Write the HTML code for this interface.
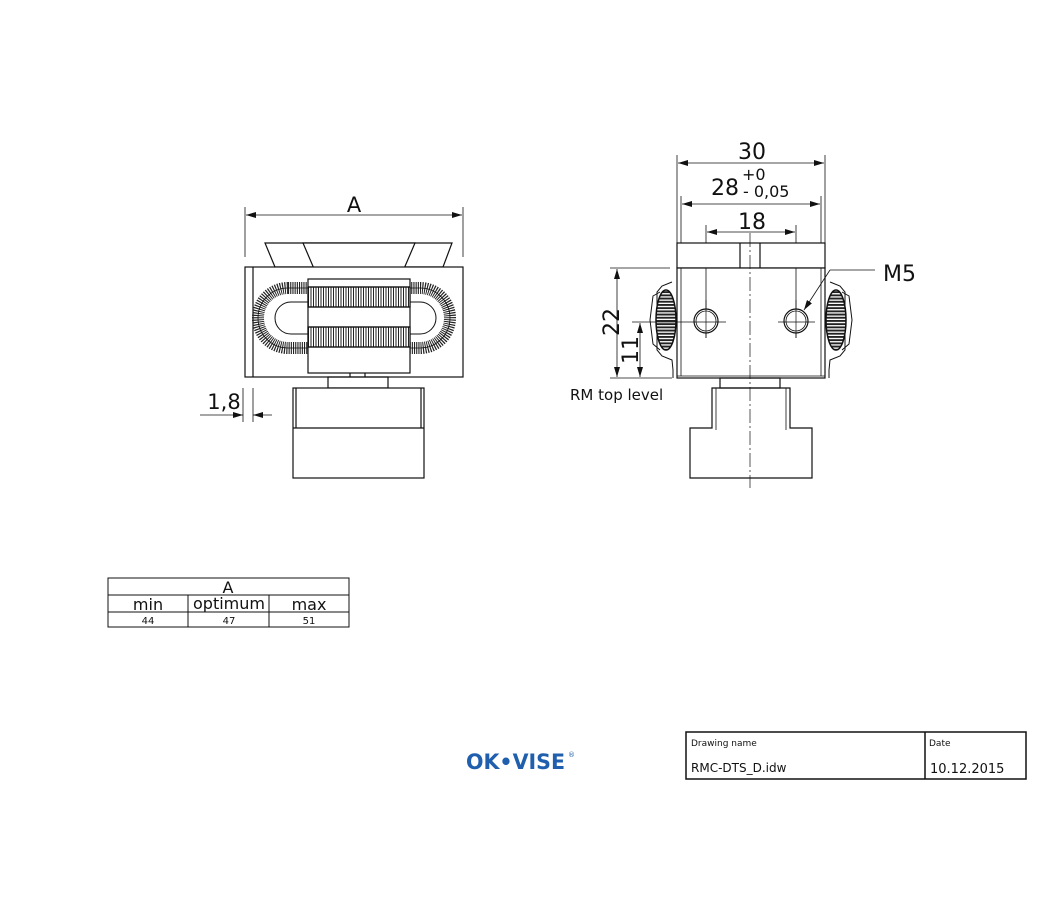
<!DOCTYPE html>
<html><head><meta charset="utf-8"><style>
html,body{margin:0;padding:0;background:#fff;}
svg{display:block;}
text{font-family:"DejaVu Sans","Liberation Sans",sans-serif;fill:#111;}
</style></head><body>
<svg width="1046" height="902" viewBox="0 0 1046 902" xmlns="http://www.w3.org/2000/svg">
<defs>
<pattern id="kn" width="2.5" height="10" patternUnits="userSpaceOnUse">
<rect width="2.5" height="10" fill="#fff"/><line x1="1" y1="0" x2="1" y2="10" stroke="#222" stroke-width="1"/>
</pattern>
<pattern id="coil" width="10" height="3.2" patternUnits="userSpaceOnUse">
<rect width="10" height="3.2" fill="#fff"/><rect y="0" width="10" height="1.9" fill="#222"/>
</pattern>
<marker id="ar" markerWidth="10" markerHeight="6" refX="10" refY="3" orient="auto" markerUnits="userSpaceOnUse">
<path d="M0,0 L10,3 L0,6 Z" fill="#111"/></marker>
<marker id="al" markerWidth="10" markerHeight="6" refX="0" refY="3" orient="auto" markerUnits="userSpaceOnUse">
<path d="M10,0 L0,3 L10,6 Z" fill="#111"/></marker>
</defs>
<g fill="none" stroke="#111" stroke-width="1.2">
<!-- LEFT VIEW -->
<line x1="245" y1="207" x2="245" y2="257" stroke-width="0.8"/>
<line x1="463" y1="207" x2="463" y2="257" stroke-width="0.8"/>
<line x1="246" y1="215" x2="462" y2="215" stroke-width="0.8" marker-start="url(#al)" marker-end="url(#ar)"/>
<path d="M265,243 L452,243 L443,267 L275,267 Z" fill="#fff"/>
<path d="M303,243 L415,243 L400,278 L318,278 Z" fill="#fff"/>
<rect x="245" y="267" width="218" height="110" fill="#fff"/>
<line x1="253" y1="267" x2="253" y2="377"/>
<path d="M288,288 L420,288 A30,30 0 0 1 420,348 L288,348 A30,30 0 0 1 288,288 Z" stroke="#222" stroke-width="12" stroke-dasharray="1.1 1.1"/>
<path d="M288,288 L420,288 A30,30 0 0 1 420,348 L288,348 A30,30 0 0 1 288,288 Z" stroke-width="0.8"/>
<path d="M291,302 L420,302 A16,16 0 0 1 420,334 L291,334 A16,16 0 0 1 291,302 Z" stroke-width="1" fill="#fff"/>
<rect x="308" y="279" width="102" height="94" fill="#fff"/>
<rect x="308" y="287" width="102" height="20" fill="url(#kn)"/>
<rect x="308" y="327" width="102" height="20" fill="url(#kn)"/>
<line x1="308" y1="307" x2="410" y2="307"/><line x1="308" y1="327" x2="410" y2="327"/>
<line x1="308" y1="287" x2="410" y2="287"/><line x1="308" y1="347" x2="410" y2="347"/>
<line x1="350" y1="373" x2="350" y2="377"/><line x1="365" y1="373" x2="365" y2="377"/>
<rect x="328" y="377" width="60" height="11"/>
<rect x="293" y="388" width="131" height="90" fill="#fff"/>
<line x1="293" y1="428" x2="424" y2="428"/>
<line x1="296" y1="388" x2="296" y2="428"/><line x1="421" y1="388" x2="421" y2="428"/>
<line x1="243" y1="388" x2="243" y2="422" stroke-width="0.8"/>
<line x1="253" y1="388" x2="253" y2="422" stroke-width="0.8"/>
<line x1="200" y1="415" x2="243" y2="415" stroke-width="0.8" marker-end="url(#ar)"/>
<line x1="272" y1="415" x2="253" y2="415" stroke-width="0.8" marker-end="url(#ar)"/>

<!-- RIGHT VIEW -->
<line x1="677" y1="155" x2="677" y2="243" stroke-width="0.8"/>
<line x1="825" y1="155" x2="825" y2="243" stroke-width="0.8"/>
<line x1="678" y1="163" x2="824" y2="163" stroke-width="0.8" marker-start="url(#al)" marker-end="url(#ar)"/>
<line x1="681" y1="196" x2="681" y2="258" stroke-width="0.8"/>
<line x1="821" y1="196" x2="821" y2="258" stroke-width="0.8"/>
<line x1="682" y1="204" x2="820" y2="204" stroke-width="0.8" marker-start="url(#al)" marker-end="url(#ar)"/>
<line x1="706" y1="225" x2="706" y2="338" stroke-width="0.8"/>
<line x1="796" y1="225" x2="796" y2="338" stroke-width="0.8"/>
<line x1="707" y1="232" x2="795" y2="232" stroke-width="0.8" marker-start="url(#al)" marker-end="url(#ar)"/>
<path d="M672,282 L662,286 L657,292 L657,350 L662,356 L672,360 L673,370 L673,378" stroke-width="1"/>
<path d="M660,292 L653,296 L650,320 L653,344 L660,350" stroke-width="1"/>
<ellipse cx="666" cy="320" rx="10" ry="30" fill="url(#coil)" stroke-width="1.5"/>
<path d="M830,282 L840,286 L845,292 L845,350 L840,356 L830,360 L829,370 L829,378" stroke-width="1"/>
<path d="M842,292 L849,296 L852,320 L849,344 L842,350" stroke-width="1"/>
<ellipse cx="836" cy="320" rx="10" ry="30" fill="url(#coil)" stroke-width="1.5"/>
<rect x="677" y="243" width="148" height="25" fill="#fff"/>
<line x1="740" y1="243" x2="740" y2="268"/><line x1="760" y1="243" x2="760" y2="268"/>
<rect x="677" y="268" width="148" height="110" fill="#fff"/>
<line x1="681" y1="268" x2="681" y2="376" stroke-width="0.8"/>
<line x1="821" y1="268" x2="821" y2="376" stroke-width="0.8"/>
<line x1="677" y1="376" x2="825" y2="376" stroke-width="0.8"/>
<line x1="706" y1="268" x2="706" y2="338" stroke-width="0.8"/>
<line x1="796" y1="268" x2="796" y2="338" stroke-width="0.8"/>
<circle cx="706" cy="321" r="12" stroke-width="1.2" fill="#fff"/><circle cx="706" cy="321" r="10" stroke-width="0.8"/>
<circle cx="796" cy="321" r="12" stroke-width="1.2" fill="#fff"/><circle cx="796" cy="321" r="10" stroke-width="0.8"/>
<line x1="706" y1="300" x2="706" y2="338" stroke-width="0.7"/>
<line x1="796" y1="300" x2="796" y2="338" stroke-width="0.7"/>
<line x1="632" y1="322" x2="726" y2="322" stroke-width="0.7"/>
<line x1="778" y1="322" x2="815" y2="322" stroke-width="0.7"/>
<line x1="750" y1="233" x2="750" y2="488" stroke-width="0.7" stroke-dasharray="14 3 2 3"/>
<rect x="720" y="378" width="60" height="10"/>
<path d="M712,388 L790,388 L790,428 L812,428 L812,478 L690,478 L690,428 L712,428 Z" fill="none"/>
<path d="M716,388 L716,430 M786,388 L786,430" stroke-width="0.8"/>
<line x1="875" y1="270" x2="830" y2="270" stroke-width="0.8"/>
<line x1="830" y1="270" x2="804" y2="310" stroke-width="0.8" marker-end="url(#ar)"/>
<line x1="610" y1="268" x2="670" y2="268" stroke-width="0.8"/>
<line x1="610" y1="378" x2="672" y2="378" stroke-width="0.8"/>
<line x1="617" y1="269" x2="617" y2="377" stroke-width="0.8" marker-start="url(#al)" marker-end="url(#ar)"/>
<line x1="640" y1="323" x2="640" y2="377" stroke-width="0.8" marker-start="url(#al)" marker-end="url(#ar)"/>

<rect x="108" y="578" width="241" height="49" stroke-width="1"/>
<line x1="108" y1="595" x2="349" y2="595" stroke-width="1"/>
<line x1="108" y1="612" x2="349" y2="612" stroke-width="1"/>
<line x1="188" y1="595" x2="188" y2="627" stroke-width="1"/>
<line x1="269" y1="595" x2="269" y2="627" stroke-width="1"/>
<rect x="686" y="732" width="340" height="47" stroke-width="1.5"/>
<line x1="925" y1="732" x2="925" y2="779" stroke-width="1.5"/>
</g>
<g>
<text x="354" y="212" font-size="21" text-anchor="middle">A</text>
<text x="224" y="409" font-size="21" text-anchor="middle">1,8</text>
<text x="752" y="159" font-size="22" text-anchor="middle">30</text>
<text x="711" y="195" font-size="22">28</text>
<text x="742" y="180" font-size="16">+0</text>
<text x="743" y="197" font-size="16">- 0,05</text>
<text x="752" y="229" font-size="22" text-anchor="middle">18</text>
<text x="883" y="281" font-size="22">M5</text>
<text x="611" y="322" font-size="22" text-anchor="middle" transform="rotate(-90 611 322)" dy="8">22</text>
<text x="630" y="350" font-size="22" text-anchor="middle" transform="rotate(-90 630 350)" dy="8">11</text>
<text x="570" y="400" font-size="15">RM top level</text>
<text x="228" y="593" font-size="16" text-anchor="middle">A</text>
<text x="148" y="610" font-size="16" text-anchor="middle">min</text>
<text x="229" y="609" font-size="16" text-anchor="middle">optimum</text>
<text x="309" y="610" font-size="16" text-anchor="middle">max</text>
<text x="148" y="624" font-size="10" text-anchor="middle">44</text>
<text x="229" y="624" font-size="10" text-anchor="middle">47</text>
<text x="309" y="624" font-size="10" text-anchor="middle">51</text>
<text x="691" y="746" font-size="9">Drawing name</text>
<text x="691" y="772" font-size="12">RMC-DTS_D.idw</text>
<text x="929" y="746" font-size="9">Date</text>
<text x="930" y="773" font-size="13">10.12.2015</text>
<text x="466" y="769" font-size="21" font-weight="bold" textLength="99" lengthAdjust="spacingAndGlyphs" style="fill:#1f5fae;font-family:'DejaVu Sans',sans-serif">OK•VISE</text>
<text x="568" y="757" font-size="7" style="fill:#1f5fae">®</text>
</g>
</svg>
</body></html>
